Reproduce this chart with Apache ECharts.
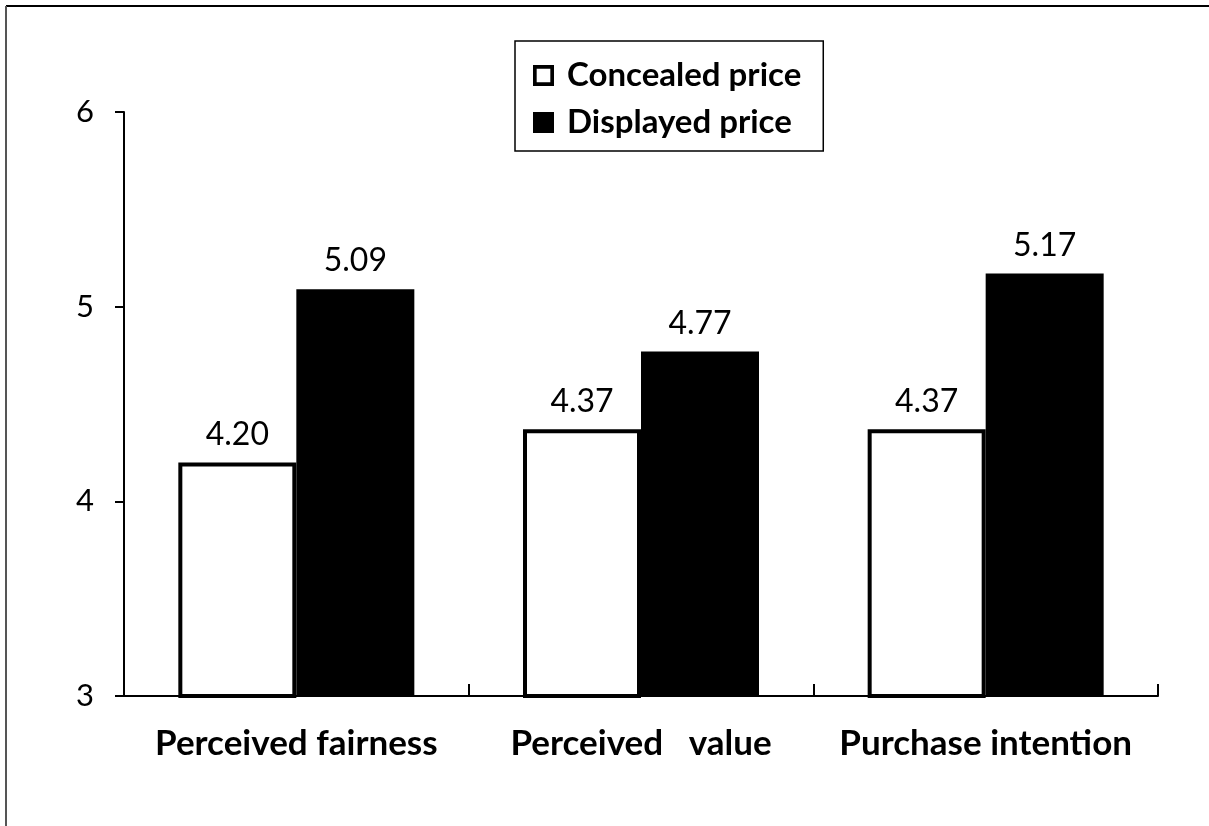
<!DOCTYPE html>
<html>
<head>
<meta charset="utf-8">
<script src="https://cdn.jsdelivr.net/npm/echarts@6/dist/echarts.min.js"></script>
<style>
	html, body { margin: 0; padding: 0; background: #fff; }
	#chart-container { width: 1209px; height: 826px; }
</style>
</head>
<body>
<div id="chart-container"></div>
<script>
const categories = ['Perceived fairness', 'Perceived   value', 'Purchase intention'];
const concealedPrice = [4.20, 4.37, 4.37];
const displayedPrice = [5.09, 4.77, 5.17];
const yTicks = [3, 4, 5, 6];

let dom = document.getElementById('chart-container');
let myChart = echarts.init(dom, null, {
	renderer: 'canvas',
	useDirtyRect: false,
});

const fontName = 'Lato, "Liberation Sans", sans-serif';

const barLabel = {
	show: true,
	position: 'top',
	distance: 12,
	color: '#000',
	fontFamily: fontName,
	fontSize: 32,
	formatter: function (p) {
		return p.value.toFixed(2);
	},
};

// hollow square for the legend, the default icon border is too thin
const hollowSquare = 'path://M0,0H20V20H0Z M3.5,3.5V16.5H16.5V3.5Z';

let option = {
	backgroundColor: '#fff',
	animation: false,
	graphic: [
		{
			type: 'line',
			shape: { x1: 6, y1: 6, x2: 1209, y2: 6 },
			style: { stroke: '#000', lineWidth: 2 },
		},
		{
			type: 'line',
			shape: { x1: 6, y1: 6, x2: 6, y2: 826 },
			style: { stroke: '#555', lineWidth: 2 },
		},
	],
	legend: {
		orient: 'vertical',
		left: 515,
		top: 41,
		padding: [18, 22, 12, 18],
		borderColor: '#000',
		borderWidth: 1.5,
		itemWidth: 21,
		itemHeight: 21,
		itemGap: 14,
		textStyle: {
			color: '#000',
			fontFamily: fontName,
			fontSize: 33,
			fontWeight: 'bold',
			padding: [0, 0, 0, 8],
		},
		data: [
			{
				name: 'Concealed price',
				icon: hollowSquare,
				itemStyle: { color: '#000', borderWidth: 0 },
			},
			{
				name: 'Displayed price',
				icon: 'rect',
			},
		],
	},
	grid: {
		left: 124,
		right: 51,
		top: 112,
		bottom: 130,
	},
	xAxis: {
		type: 'category',
		data: categories,
		axisLine: { lineStyle: { color: '#000', width: 2 } },
		axisTick: {
			show: true,
			inside: true,
			interval: 0,
			length: 12,
			lineStyle: { color: '#000', width: 2 },
		},
		axisLabel: {
			interval: 0,
			hideOverlap: false,
			color: '#000',
			fontFamily: fontName,
			fontSize: 35,
			fontWeight: 'bold',
			margin: 30,
		},
	},
	yAxis: {
		type: 'value',
		min: yTicks[0],
		max: yTicks[yTicks.length - 1],
		interval: 1,
		splitLine: { show: false },
		axisLine: { show: true, lineStyle: { color: '#000', width: 2 } },
		axisTick: {
			show: true,
			length: 9,
			lineStyle: { color: '#000', width: 2 },
		},
		axisLabel: {
			color: '#000',
			fontFamily: fontName,
			fontSize: 31,
			margin: 30,
		},
	},
	series: [
		{
			name: 'Concealed price',
			type: 'bar',
			barWidth: 118,
			barGap: 0,
			itemStyle: {
				color: '#fff',
				borderColor: '#000',
				borderWidth: 4,
			},
			label: barLabel,
			data: concealedPrice,
		},
		{
			name: 'Displayed price',
			type: 'bar',
			barWidth: 118,
			itemStyle: {
				color: '#000',
				borderColor: '#000',
				borderWidth: 0,
			},
			label: barLabel,
			data: displayedPrice,
		},
	],
};

myChart.setOption(option);
window.addEventListener('resize', myChart.resize);
</script>
</body>
</html>
